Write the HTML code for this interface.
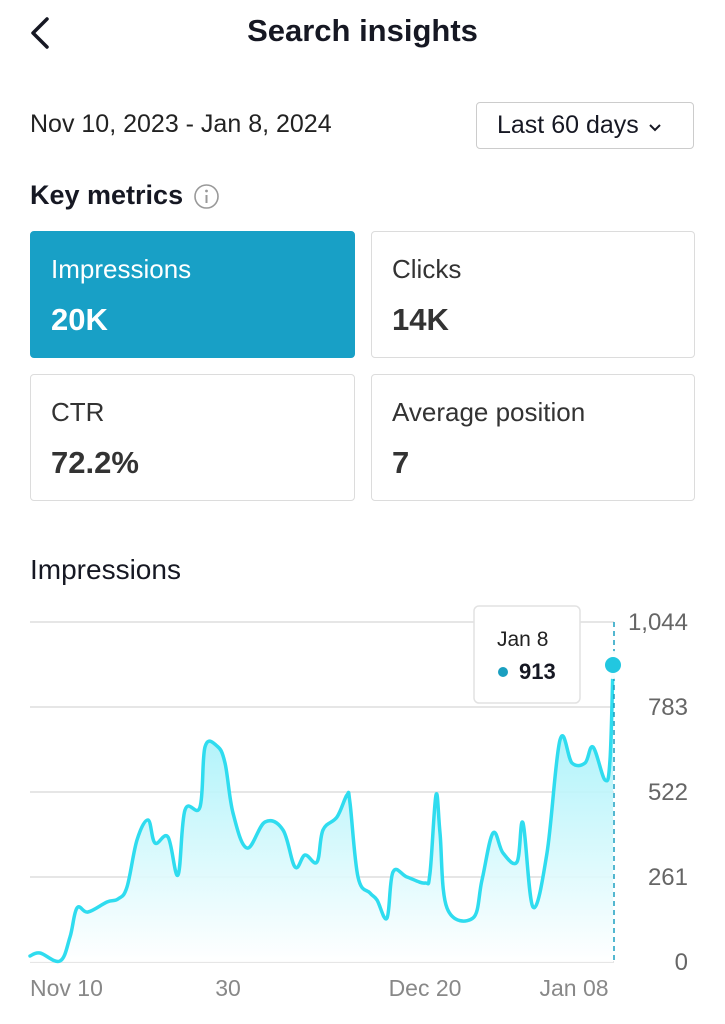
<!DOCTYPE html>
<html><head><meta charset="utf-8"><style>
body{margin:0;width:725px;height:1024px;background:#fff;font-family:"Liberation Sans",sans-serif;color:#161823;position:relative;overflow:hidden}
.a{position:absolute;white-space:nowrap}
.card{position:absolute;border:1.5px solid #dcdcdc;border-radius:4px;box-sizing:border-box}
.card .l{position:absolute;left:20px;top:22px;font-size:26px;color:#333}
.card .v{position:absolute;left:20px;top:70px;font-size:31px;font-weight:bold;color:#333}
</style></head><body>
<svg class="a" style="left:28px;top:16px" width="24" height="34"><polyline points="19,3 5,17 19,31" fill="none" stroke="#161823" stroke-width="3.5" stroke-linecap="round" stroke-linejoin="round"/></svg>
<div class="a" style="left:0;width:725px;text-align:center;top:13px;font-size:31px;font-weight:bold">Search insights</div>
<div class="a" style="left:30px;top:110px;font-size:25px;color:#222">Nov 10, 2023 - Jan 8, 2024</div>
<div class="a" style="left:476px;top:102px;width:218px;height:47px;border:1.5px solid #ccc;border-radius:4px;box-sizing:border-box;font-size:25px;line-height:44px;padding-left:20px">Last 60 days <svg width="14" height="10" style="margin-left:2px"><polyline points="2,2 7,7 12,2" fill="none" stroke="#161823" stroke-width="2"/></svg></div>
<div class="a" style="left:30px;top:180px;font-size:27px;font-weight:bold">Key metrics</div>
<svg class="a" style="left:193px;top:183px" width="27" height="27"><circle cx="13.5" cy="13.5" r="11.5" fill="none" stroke="#999" stroke-width="1.6"/><circle cx="13.5" cy="8" r="1.4" fill="#999"/><line x1="13.5" y1="12" x2="13.5" y2="20" stroke="#999" stroke-width="2"/></svg>
<div class="card" style="left:30px;top:231px;width:325px;height:127px;background:#18a0c6;border-color:#18a0c6"><div class="l" style="color:#fff">Impressions</div><div class="v" style="color:#fff">20K</div></div>
<div class="card" style="left:371px;top:231px;width:324px;height:127px"><div class="l">Clicks</div><div class="v">14K</div></div>
<div class="card" style="left:30px;top:374px;width:325px;height:127px"><div class="l">CTR</div><div class="v">72.2%</div></div>
<div class="card" style="left:371px;top:374px;width:324px;height:127px"><div class="l">Average position</div><div class="v">7</div></div>
<div class="a" style="left:30px;top:554px;font-size:28px;color:#161823">Impressions</div>
<svg class="a" style="left:0;top:0" width="725" height="1024">
<defs><linearGradient id="g" x1="0" y1="0" x2="0" y2="1"><stop offset="0" stop-color="#8eeef8"/><stop offset="1" stop-color="#ffffff"/></linearGradient></defs>
<g stroke="#dddddd" stroke-width="1.5"><line x1="30" y1="622" x2="614" y2="622"/><line x1="30" y1="707" x2="614" y2="707"/><line x1="30" y1="792" x2="614" y2="792"/><line x1="30" y1="877" x2="614" y2="877"/><line x1="30" y1="962" x2="614" y2="962"/></g>
<path id="area" d="" fill="url(#g)" opacity="0.9"/>
<path id="line" d="" fill="none" stroke="#2fdcef" stroke-width="3.5" stroke-linejoin="round" stroke-linecap="round"/>
<line x1="614" y1="622" x2="614" y2="962" stroke="#1a9fc0" stroke-width="1.5" stroke-dasharray="5,4"/>
<circle cx="613" cy="665" r="14" fill="#fff" opacity="0.95"/><circle cx="613" cy="665" r="8" fill="#22c7e0"/>
<rect x="474" y="606" width="106" height="97" rx="5" fill="#fff" stroke="#e2e2e2" stroke-width="1.5"/>
<text x="497" y="646" font-size="21" fill="#222" font-family="Liberation Sans">Jan 8</text>
<circle cx="503" cy="672" r="5" fill="#1a9fc0"/>
<text x="519" y="679" font-size="22" font-weight="bold" fill="#161823" font-family="Liberation Sans">913</text>
<g font-size="24" fill="#666" font-family="Liberation Sans" text-anchor="end"><text x="688" y="630">1,044</text><text x="688" y="715">783</text><text x="688" y="800">522</text><text x="688" y="885">261</text><text x="688" y="970">0</text></g>
<g font-size="23" fill="#888" font-family="Liberation Sans"><text x="30" y="996">Nov 10</text><text x="228" y="996" text-anchor="middle">30</text><text x="425" y="996" text-anchor="middle">Dec 20</text><text x="574" y="996" text-anchor="middle">Jan 08</text></g>
</svg>
<script>
var p=[[30,956],[40,953],[60,961],[70,937],[77,908],[88,912],[107,902],[118,899],[127,887],[137,840],[148,820],[155,843],[168,837],[178,875],[185,810],[200,807],[205,747],[217,746],[225,763],[233,813],[247,848],[265,822],[283,830],[295,867],[305,855],[317,862],[323,830],[337,817],[347,795],[350,803],[358,877],[370,893],[377,900],[387,918],[393,872],[407,877],[425,883],[430,873],[436,795],[440,833],[447,908],[473,918],[482,880],[493,833],[503,853],[517,862],[523,823],[533,907],[547,853],[560,740],[572,763],[585,763],[593,747],[605,780],[610,760],[613,665]];
var d="M"+p[0][0]+","+p[0][1];
for(var i=0;i<p.length-1;i++){var a=p[i-1]||p[i],b=p[i],c=p[i+1],e=p[i+2]||c,t=0.18;
d+=" C"+(b[0]+(c[0]-a[0])*t)+","+(b[1]+(c[1]-a[1])*t)+" "+(c[0]-(e[0]-b[0])*t)+","+(c[1]-(e[1]-b[1])*t)+" "+c[0]+","+c[1];}
document.getElementById("line").setAttribute("d",d);
document.getElementById("area").setAttribute("d",d+" L613,962 L30,962 Z");
</script>
</body></html>
